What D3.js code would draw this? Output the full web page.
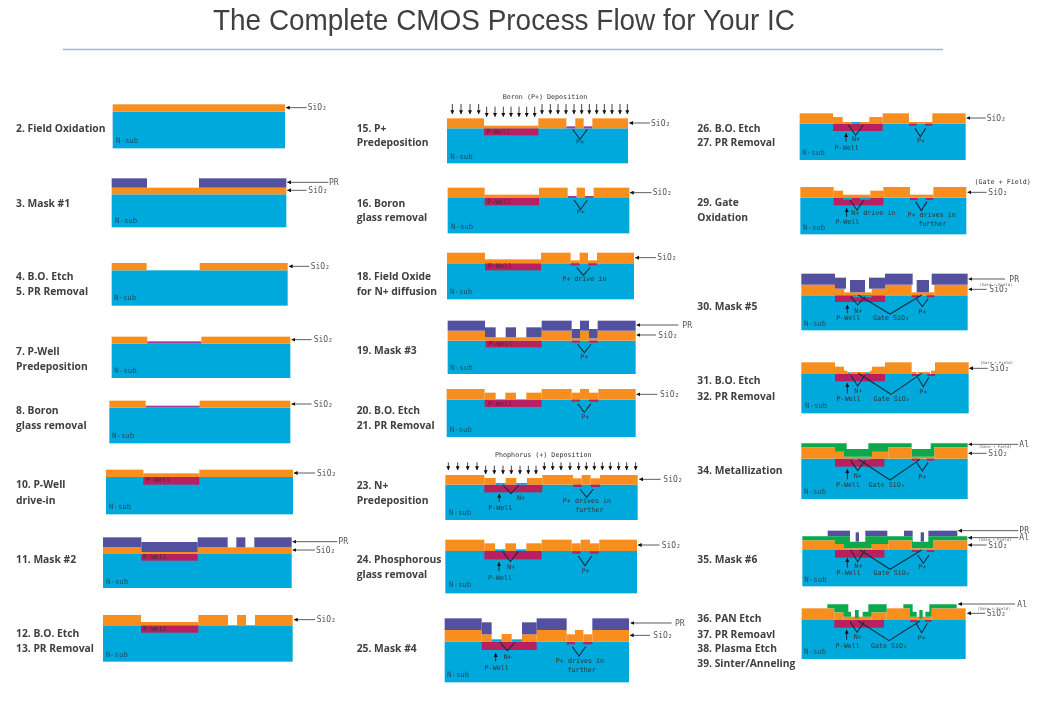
<!DOCTYPE html>
<meta charset="utf-8">
<style>
    html, body { margin: 0; background: #fff; }
    svg { display: block; filter: blur(0.5px); }
    .title { font: 400 30px "Liberation Sans", sans-serif; fill: #404040; }
    .step { font: 700 10.3px "Open Sans", sans-serif; fill: #404040; dominant-baseline: central; }
    .mono { font-family: "DejaVu Sans Mono", monospace; dominant-baseline: central; }
    .note { font-size: 6.7px; fill: #333; text-anchor: middle; }
    .sub { font-size: 7.4px; fill: #1c4f66; }
    .callout { font-size: 8px; fill: #555; }
    .tiny { font-size: 3.9px; fill: #666; text-anchor: middle; }
</style>
<body>
<script src="https://d3js.org/d3.v7.min.js"></script>
<script>

var cropOrigins = [[0, 90], [0, 300], [0, 500], [350, 90], [350, 300], [350, 520], [690, 100], [690, 340], [690, 515]];

var titleText = "The Complete CMOS Process Flow for Your IC";

var stepLabels = ["2. Field Oxidation", "3. Mask #1", "4. B.O. Etch", "5. PR Removal", "7. P-Well", "Predeposition", "8. Boron", "glass removal", "10. P-Well", "drive-in", "11. Mask #2", "12. B.O. Etch", "13. PR Removal",
    "15. P+", "Predeposition", "16. Boron", "glass removal", "18. Field Oxide", "for N+ diffusion", "19. Mask #3", "20. B.O. Etch", "21. PR Removal", "23. N+", "Predeposition", "24. Phosphorous", "glass removal", "25. Mask #4",
    "26. B.O. Etch", "27. PR Removal", "29. Gate", "Oxidation", "30. Mask #5", "31. B.O. Etch", "32. PR Removal", "34. Metallization", "35. Mask #6", "36. PAN Etch", "37. PR Remoavl", "38. Plasma Etch", "39. Sinter/Anneling"];
var stepColumn = [0, 0, 0, 0, 0, 0, 0, 0, 0, 0, 0, 0, 0, 1, 1, 1, 1, 1, 1, 1, 1, 1, 1, 1, 1, 1, 1, 2, 2, 2, 2, 2, 2, 2, 2, 2, 2, 2, 2, 2];
var stepRow = [127.7, 202.7, 276, 291.3, 350.7, 365.7, 410, 425, 484.3, 500, 559, 633.3, 647.7,
    128.3, 142.3, 202.7, 217, 276, 291.3, 350.3, 410, 425, 485, 500, 559, 573.7, 648,
    127.7, 142.3, 202.3, 217, 305.7, 380.3, 395.7, 470, 558.7, 618.3, 633.7, 648, 663];
var columnLeft = [16, 356.7, 697.3];

// crop, left, right, interface, bottom
var substrate = [
    [0, 338, 855, 65, 175], [0, 335, 859, 313, 412], [0, 335, 863, 541, 647],
    [1, 335, 871, 131, 234], [1, 328, 871, 323, 430], [1, 318, 879, 531, 643],
    [2, 309, 875, 162, 264], [2, 309, 878, 376, 485],
    [3, 291, 834, 115, 220], [3, 293, 838, 324, 430], [3, 291, 852, 520, 628],
    [4, 293, 857, 122, 222], [4, 290, 857, 299, 411], [4, 286, 863, 554, 660],
    [5, 286, 861, 93, 220], [5, 284, 837, 365, 487],
    [6, 329, 827, 71, 180], [6, 331, 829, 293, 403], [6, 334, 833, 586, 691],
    [7, 334, 836, 102, 220], [7, 334, 833, 356, 477],
    [8, 337, 832, 105, 214], [8, 335, 827, 315, 432]
];

// crop, left, right, top, bottom
var wells = [
    [1, 430, 598, 531, 554], [2, 424, 593, 162, 182], [2, 423, 595, 376, 398],
    [3, 402, 565, 115, 136], [3, 404, 567, 324, 346], [3, 405, 573, 520, 541],
    [4, 407, 575, 122, 142], [4, 404, 575, 299, 321], [4, 403, 577, 554, 577],
    [5, 403, 575, 93, 118], [5, 395, 560, 365, 390],
    [6, 429, 578, 71, 93], [6, 431, 580, 293, 316], [6, 435, 585, 586, 606],
    [7, 435, 585, 102, 124], [7, 435, 583, 356, 380],
    [8, 435, 583, 105, 128], [8, 433, 582, 315, 338]
];

// crop, interface, then [left, right, top] runs of the oxide
var oxide = [
    [0, 65, [[338, 855, 43]]],
    [0, 313, [[335, 859, 293]]],
    [0, 541, [[335, 440, 519], [599, 863, 519]]],
    [1, 131, [[335, 442, 110], [604, 871, 110]]],
    [1, 323, [[328, 437, 302], [599, 871, 302]]],
    [1, 531, [[318, 430, 509], [430, 598, 520], [598, 879, 509]]],
    [2, 162, [[309, 424, 142], [424, 593, 156], [593, 875, 142]]],
    [2, 376, [[309, 423, 345], [423, 595, 366], [595, 684, 345], [711, 738, 345], [765, 878, 345]]],
    [3, 115, [[291, 402, 85], [402, 565, 107], [565, 649, 85], [676, 701, 85], [727, 834, 85]]],
    [3, 324, [[293, 404, 293], [404, 567, 314], [567, 653, 293], [680, 705, 293], [731, 838, 293]]],
    [3, 520, [[291, 405, 488], [405, 573, 508], [573, 662, 488], [662, 689, 511], [689, 714, 488], [714, 741, 511], [741, 852, 488]]],
    [4, 122, [[293, 405, 92], [405, 575, 112], [575, 665, 92], [665, 690, 115], [690, 717, 92], [717, 743, 115], [743, 857, 92]]],
    [4, 299, [[290, 404, 267], [404, 437, 278], [466, 498, 278], [529, 575, 278], [575, 665, 267], [665, 690, 278], [690, 717, 267], [717, 745, 278], [745, 857, 267]]],
    [4, 554, [[286, 403, 525], [403, 437, 534], [467, 499, 534], [531, 577, 534], [577, 669, 525], [669, 695, 535], [695, 722, 525], [722, 750, 535], [750, 863, 525]]],
    [5, 93, [[286, 403, 59], [403, 435, 70], [466, 498, 70], [529, 575, 70], [575, 665, 59], [665, 692, 70], [692, 720, 59], [720, 748, 70], [748, 861, 59]]],
    [5, 365, [[284, 395, 330], [395, 425, 343], [455, 485, 342], [516, 560, 343], [560, 650, 330], [650, 675, 343], [675, 700, 330], [700, 727, 343], [727, 837, 330]]],
    [6, 71, [[329, 429, 40], [429, 458, 51], [458, 538, 66], [538, 578, 51], [578, 657, 40], [657, 727, 66], [727, 827, 40]]],
    [6, 293, [[331, 431, 261], [431, 459, 272], [459, 541, 284], [541, 580, 272], [580, 660, 261], [660, 730, 284], [730, 829, 261]]],
    [6, 586, [[334, 435, 554], [435, 463, 566], [463, 545, 577], [545, 585, 566], [585, 665, 554], [665, 733, 577], [733, 833, 554]]],
    [7, 102, [[334, 435, 67], [435, 462, 80], [462, 472, 92], [482, 525, 96], [540, 546, 92], [546, 585, 80], [585, 665, 67], [665, 680, 96], [683, 720, 96], [723, 735, 92], [735, 836, 67]]],
    [7, 356, [[334, 435, 322], [435, 462, 335], [462, 546, 350], [546, 595, 335], [595, 665, 322], [665, 733, 350], [733, 833, 322]]],
    [8, 105, [[337, 435, 76], [435, 462, 87], [462, 545, 100], [545, 595, 87], [595, 665, 76], [665, 730, 100], [730, 832, 76]]],
    [8, 315, [[335, 433, 280], [433, 460, 292], [460, 545, 305], [545, 590, 292], [590, 660, 280], [660, 725, 305], [725, 827, 280]]]
];

// crop, left, right, top, bottom
var resist = [
    [0, 335, 441, 265, 293], [0, 597, 859, 265, 293],
    [2, 309, 424, 112, 142], [2, 424, 593, 126, 156], [2, 593, 683, 112, 142], [2, 709, 736, 112, 142], [2, 763, 875, 112, 142],
    [4, 293, 405, 62, 92], [4, 405, 437, 82, 112], [4, 467, 498, 82, 112], [4, 529, 575, 82, 112], [4, 575, 665, 62, 92], [4, 665, 690, 87, 115], [4, 690, 717, 62, 92], [4, 717, 743, 87, 115], [4, 743, 857, 62, 92],
    [5, 284, 395, 295, 330], [5, 395, 425, 307, 343], [5, 516, 560, 307, 343], [5, 560, 650, 295, 330], [5, 727, 837, 295, 330],
    [6, 334, 435, 521, 554], [6, 435, 468, 533, 566], [6, 480, 525, 540, 577], [6, 537, 585, 533, 566], [6, 585, 668, 521, 554], [6, 680, 717, 540, 577], [6, 725, 833, 521, 554],
    [8, 413, 480, 47, 64], [8, 497, 507, 52, 80], [8, 526, 592, 47, 64], [8, 642, 668, 47, 64], [8, 692, 702, 52, 80], [8, 715, 802, 47, 64]
];

// crop, outline of the aluminium
var metal = [
    [7, [[334, 310], [470, 310], [470, 327], [535, 327], [535, 310], [665, 310], [665, 327], [722, 327], [722, 310], [833, 310], [833, 322], [733, 322], [733, 350], [665, 350], [665, 322], [595, 322], [595, 335], [546, 335], [546, 350], [462, 350], [462, 335], [435, 335], [435, 322], [334, 322]]],
    [8, [[337, 64], [480, 64], [480, 80], [526, 80], [526, 64], [668, 64], [668, 80], [715, 80], [715, 64], [832, 64], [832, 76], [730, 76], [730, 100], [665, 100], [665, 76], [595, 76], [595, 87], [545, 87], [545, 100], [462, 100], [462, 87], [435, 87], [435, 76], [337, 76]]],
    [8, [[412, 268], [475, 268], [475, 290], [483, 290], [483, 305], [460, 305], [460, 292], [433, 292], [433, 280], [412, 280]]],
    [8, [[495, 285], [506, 285], [506, 310], [495, 310]]],
    [8, [[535, 268], [590, 268], [590, 292], [545, 292], [545, 305], [518, 305], [518, 290], [535, 290]]],
    [8, [[640, 268], [668, 268], [668, 290], [680, 290], [680, 305], [660, 305], [660, 280], [640, 280]]],
    [8, [[688, 285], [698, 285], [698, 310], [688, 310]]],
    [8, [[718, 268], [800, 268], [800, 280], [725, 280], [725, 305], [706, 305], [706, 290], [718, 290]]]
];

// crop, left, right, top, bottom
var boronGlass = [
    [1, 442, 604, 124, 131], [1, 437, 599, 317, 323],
    [3, 649, 676, 109, 115], [3, 701, 727, 109, 115], [3, 653, 680, 318, 324], [3, 705, 731, 318, 324]
];
var pDiffusion = [
    [3, 662, 688, 520, 526], [3, 715, 740, 520, 526],
    [4, 665, 690, 122, 128], [4, 717, 743, 122, 128], [4, 665, 690, 299, 305], [4, 717, 745, 299, 305], [4, 669, 695, 554, 561], [4, 722, 750, 554, 561],
    [5, 667, 692, 94, 101], [5, 720, 746, 94, 101], [5, 650, 675, 366, 373], [5, 700, 727, 366, 373],
    [6, 657, 680, 71, 77], [6, 705, 727, 71, 77], [6, 660, 683, 294, 300], [6, 707, 730, 294, 300], [6, 665, 688, 586, 592], [6, 710, 733, 586, 592],
    [7, 665, 685, 102, 108], [7, 712, 735, 102, 108], [7, 665, 688, 356, 362], [7, 710, 733, 356, 362],
    [8, 665, 688, 105, 111], [8, 710, 733, 105, 111], [8, 660, 683, 315, 321], [8, 705, 725, 315, 321]
];
var nDiffusion = [
    [4, 437, 467, 549, 554], [4, 499, 531, 549, 554],
    [5, 435, 466, 88, 93], [5, 498, 529, 88, 93], [5, 425, 455, 358, 365], [5, 485, 516, 358, 365],
    [6, 486, 510, 66, 71], [6, 459, 486, 293, 299], [6, 510, 541, 293, 299], [6, 490, 545, 586, 592],
    [7, 472, 482, 97, 102], [7, 525, 540, 97, 102], [7, 490, 540, 356, 360]
];

// crop, left, middle, right, top, bottom
var junctionMarks = [
    [3, 668, 690, 712, 118, 148], [3, 672, 692, 712, 330, 358], [3, 680, 700, 720, 533, 556],
    [4, 683, 703, 723, 133, 158], [4, 683, 703, 723, 311, 337], [4, 459, 483, 507, 555, 581], [4, 690, 710, 730, 567, 592],
    [5, 458, 481, 505, 94, 125], [5, 685, 705, 725, 108, 137], [5, 450, 472, 495, 367, 392], [5, 667, 687, 707, 380, 408],
    [6, 475, 497, 520, 75, 105], [6, 675, 691, 707, 85, 110], [6, 480, 501, 522, 300, 330], [6, 677, 694, 711, 305, 332],
    [6, 482, 503, 525, 590, 615], [6, 680, 697, 714, 597, 620], [6, 505, 600, 695, 585, 642],
    [7, 482, 503, 525, 105, 138], [7, 683, 700, 717, 112, 140], [7, 505, 603, 695, 100, 163],
    [7, 482, 503, 525, 362, 392], [7, 680, 697, 714, 368, 393], [7, 505, 600, 690, 358, 420],
    [8, 482, 503, 525, 105, 140], [8, 683, 700, 717, 120, 145], [8, 510, 600, 695, 105, 163],
    [8, 480, 501, 523, 320, 352], [8, 678, 695, 712, 325, 353], [8, 505, 597, 690, 318, 377]
];

// crop, x, tail, head
var wellPointers = [
    [4, 448, 605, 582], [5, 447, 153, 127], [5, 437, 425, 400], [6, 468, 125, 100], [6, 470, 350, 325], [6, 472, 640, 615],
    [7, 472, 160, 130], [7, 472, 418, 388], [8, 472, 158, 130], [8, 470, 375, 345]
];

// crop, x, y, text
var notes = [
    [1, 475, 541, "P-Well"], [2, 465, 171, "P-Well"], [2, 465, 387, "P-Well"],
    [3, 585, 22, "Boron (P+) Deposition"], [3, 445, 125, "P-Well"], [3, 690, 157, "P+"], [3, 448, 335, "P-Well"], [3, 692, 367, "P+"], [3, 450, 529, "P-Well"], [3, 703, 567, "P+ drive in"],
    [4, 452, 131, "P-Well"], [4, 703, 170, "P+"], [4, 450, 311, "P-Well"], [4, 706, 350, "P+"],
    [4, 580, 466, "Phophorus (+) Deposition"], [4, 513, 594, "N+"], [4, 451, 624, "P-Well"], [4, 711, 604, "P+ drives in"], [4, 718, 630, "further"],
    [5, 484, 140, "N+"], [5, 450, 175, "P-Well"], [5, 707, 152, "P+"],
    [5, 473, 410, "N+"], [5, 440, 443, "P-Well"], [5, 690, 423, "P+ drives in"], [5, 695, 451, "further"],
    [6, 498, 117, "N+"], [6, 470, 143, "P-Well"], [6, 693, 122, "P+"],
    [6, 550, 340, "N+ drive in"], [6, 472, 366, "P-Well"], [6, 725, 345, "P+ drives in"], [6, 727, 371, "further"],
    [6, 505, 632, "N+"], [6, 475, 655, "P-Well"], [6, 603, 655, "Gate SiO₂"], [6, 697, 635, "P+"],
    [7, 505, 152, "N+"], [7, 476, 177, "P-Well"], [7, 605, 177, "Gate SiO₂"], [7, 700, 155, "P+"],
    [7, 503, 408, "N+"], [7, 474, 435, "P-Well"], [7, 590, 435, "Gate SiO₂"], [7, 697, 412, "P+"],
    [8, 505, 152, "N+"], [8, 476, 175, "P-Well"], [8, 605, 175, "Gate SiO₂"], [8, 697, 157, "P+"],
    [8, 503, 366, "N+"], [8, 473, 393, "P-Well"], [8, 597, 392, "Gate SiO₂"], [8, 695, 369, "P+"]
];

// crop, x, y
var nSubLabels = [
    [0, 348, 152], [0, 345, 390], [0, 342, 623], [1, 343, 212], [1, 336, 407], [1, 327, 619], [2, 318, 243], [2, 317, 462],
    [3, 301, 199], [3, 303, 408], [3, 300, 604], [4, 301, 201], [4, 299, 387], [4, 297, 637], [5, 297, 194], [5, 291, 463],
    [6, 337, 157], [6, 339, 383], [6, 342, 671], [7, 345, 197], [7, 342, 453], [8, 343, 193], [8, 342, 409]
];

// crop, head, tail, y, text x, text
var callouts = [
    [0, 858, 920, 53, 923, "SiO₂"], [0, 862, 985, 277, 987, "PR"], [0, 862, 920, 301, 925, "SiO₂"], [0, 867, 928, 529, 932, "SiO₂"],
    [1, 875, 935, 119, 941, "SiO₂"], [1, 875, 935, 312, 941, "SiO₂"], [1, 882, 945, 519, 951, "SiO₂"],
    [2, 878, 1012, 125, 1015, "PR"], [2, 878, 945, 150, 948, "SiO₂"], [2, 882, 945, 359, 950, "SiO₂"],
    [3, 838, 900, 99, 903, "SiO₂"], [3, 840, 905, 308, 908, "SiO₂"], [3, 856, 918, 503, 922, "SiO₂"],
    [4, 860, 985, 75, 997, "PR"], [4, 860, 918, 105, 925, "SiO₂"], [4, 860, 922, 283, 930, "SiO₂"], [4, 868, 932, 538, 940, "SiO₂"],
    [5, 864, 928, 75, 935, "SiO₂"], [5, 842, 965, 309, 975, "PR"], [5, 840, 900, 346, 910, "SiO₂"],
    [6, 830, 887, 54, 890, "SiO₂"], [6, 833, 890, 277, 895, "SiO₂"], [6, 836, 945, 537, 958, "PR"], [6, 836, 890, 568, 898, "SiO₂"],
    [7, 838, 893, 85, 900, "SiO₂"], [7, 836, 985, 313, 988, "Al"], [7, 836, 890, 340, 895, "SiO₂"],
    [8, 805, 985, 47, 988, "PR"], [8, 835, 985, 68, 988, "Al"], [8, 835, 890, 90, 895, "SiO₂"],
    [8, 805, 975, 267, 982, "Al"], [8, 832, 885, 295, 890, "SiO₂"]
];

// crop, x, y, text
var fieldNotes = [[6, 918, 552, "(Gate + Field)"], [7, 920, 66, "(Gate + Field)"], [7, 916, 320, "(Gate + Field)"], [8, 915, 72, "(Gate + Field)"], [8, 912, 279, "(Gate + Field)"]];
var gateFieldNote = [6, 938, 245, "(Gate + Field)"];

// crop, top, bottom, x positions
var boronArrowsHigh = [3, 42, 72, [307, 333, 360, 386, 576, 601, 624, 648, 672, 695, 718, 740, 763, 786, 810, 832]];
var boronArrowsLow = [3, 50, 80, [410, 435, 460, 483, 507, 530, 554]];
var phosArrowsHigh = [4, 487, 510, [295, 323, 353, 381, 583, 608, 633, 660, 686, 709, 733, 757, 781, 806, 830, 857]];
var phosArrowsLow = [4, 497, 522, [407, 433, 459, 484, 510, 535, 558]];

var colors = { sub: "#00a9dc", oxide: "#f78e1e", resist: "#5350a0", well: "#b8215f", glass: "#a83a98", metal: "#0da84c", line: "#12303f" };

var xs = cropOrigins.map(function(o) { return d3.scaleLinear().domain([0, 3]).range([o[0], o[0] + 1]); });
var ys = cropOrigins.map(function(o) { return d3.scaleLinear().domain([0, 3]).range([o[1], o[1] + 1]); });

var svg = d3.select("body").append("svg")
        .attr("width", 1041)
        .attr("height", 705);

svg.append("defs").append("marker")
        .attr("id", "head")
        .attr("viewBox", "0 0 6 6")
        .attr("refX", 5.5)
        .attr("refY", 3)
        .attr("markerWidth", 4)
        .attr("markerHeight", 4)
        .attr("markerUnits", "userSpaceOnUse")
        .attr("orient", "auto")
        .append("path")
        .attr("d", "M0,0L6,3L0,6Z")
        .attr("fill", "#111");

svg.append("text")
        .attr("class", "title")
        .attr("x", 213)
        .attr("y", 30)
        .attr("textLength", 582)
        .attr("lengthAdjust", "spacingAndGlyphs")
        .text(titleText);

svg.append("line")
        .attr("x1", 63)
        .attr("x2", 943)
        .attr("y1", 49.5)
        .attr("y2", 49.5)
        .attr("stroke", "#8dbbe4")
        .attr("stroke-width", 1.5);

svg.selectAll("text.step")
        .data(stepLabels)
        .join("text")
        .attr("class", "step")
        .attr("x", function(d, i) { return columnLeft[stepColumn[i]]; })
        .attr("y", function(d, i) { return stepRow[i]; })
        .text(function(d) { return d; });

function drawBlocks(rows, color) {
    svg.append("g")
        .attr("fill", color)
        .selectAll("rect")
        .data(rows)
        .join("rect")
        .attr("x", function(d) { return xs[d[0]](d[1]); })
        .attr("width", function(d) { return xs[d[0]](d[2]) - xs[d[0]](d[1]); })
        .attr("y", function(d) { return ys[d[0]](d[3]); })
        .attr("height", function(d) { return ys[d[0]](d[4]) - ys[d[0]](d[3]); });
}

var oxideBlocks = oxide.flatMap(function(o) {
    return o[2].map(function(run) { return [o[0], run[0], run[1], run[2], o[1]]; });
});

drawBlocks(substrate, colors.sub);
drawBlocks(wells, colors.well);
drawBlocks(oxideBlocks, colors.oxide);
drawBlocks(resist, colors.resist);

svg.append("g")
        .attr("fill", colors.metal)
        .selectAll("path")
        .data(metal)
        .join("path")
        .attr("d", function(d) {
            return d3.line()
                .x(function(p) { return xs[d[0]](p[0]); })
                .y(function(p) { return ys[d[0]](p[1]); })(d[1]) + "Z";
        });

drawBlocks(boronGlass, colors.glass);
drawBlocks(pDiffusion, colors.well);
drawBlocks(nDiffusion, colors.sub);

svg.append("g")
        .attr("fill", "none")
        .attr("stroke", colors.line)
        .attr("stroke-width", 1.1)
        .selectAll("path")
        .data(junctionMarks)
        .join("path")
        .attr("d", function(d) {
            var x = xs[d[0]], y = ys[d[0]];
            return d3.line()([[x(d[1]), y(d[4])], [x(d[2]), y(d[5])], [x(d[3]), y(d[4])]]);
        });

var rainRows = [boronArrowsHigh, boronArrowsLow, phosArrowsHigh, phosArrowsLow].flatMap(function(r) {
    return r[3].map(function(x) { return [r[0], x, r[1], r[2]]; });
});

svg.append("g")
        .attr("stroke", "#111")
        .attr("stroke-width", 0.8)
        .selectAll("line")
        .data(wellPointers.concat(rainRows))
        .join("line")
        .attr("x1", function(d) { return xs[d[0]](d[1]); })
        .attr("x2", function(d) { return xs[d[0]](d[1]); })
        .attr("y1", function(d) { return ys[d[0]](d[2]); })
        .attr("y2", function(d) { return ys[d[0]](d[3]); })
        .attr("marker-end", "url(#head)");

svg.append("g")
        .attr("stroke", "#333")
        .attr("stroke-width", 0.8)
        .selectAll("line")
        .data(callouts)
        .join("line")
        .attr("x1", function(d) { return xs[d[0]](d[2]); })
        .attr("x2", function(d) { return xs[d[0]](d[1]); })
        .attr("y1", function(d) { return ys[d[0]](d[3]); })
        .attr("y2", function(d) { return ys[d[0]](d[3]); })
        .attr("marker-end", "url(#head)");

svg.selectAll("text.callout")
        .data(callouts)
        .join("text")
        .attr("class", "mono callout")
        .attr("x", function(d) { return xs[d[0]](d[4]); })
        .attr("y", function(d) { return ys[d[0]](d[3]); })
        .text(function(d) { return d[5]; });

svg.selectAll("text.note")
        .data(notes.concat([gateFieldNote]))
        .join("text")
        .attr("class", "mono note")
        .attr("x", function(d) { return xs[d[0]](d[1]); })
        .attr("y", function(d) { return ys[d[0]](d[2]); })
        .text(function(d) { return d[3]; });

svg.selectAll("text.tiny")
        .data(fieldNotes)
        .join("text")
        .attr("class", "mono tiny")
        .attr("x", function(d) { return xs[d[0]](d[1]); })
        .attr("y", function(d) { return ys[d[0]](d[2]); })
        .text(function(d) { return d[3]; });

svg.selectAll("text.sub")
        .data(nSubLabels)
        .join("text")
        .attr("class", "mono sub")
        .attr("x", function(d) { return xs[d[0]](d[1]); })
        .attr("y", function(d) { return ys[d[0]](d[2]); })
        .text("N-sub");

</script>
